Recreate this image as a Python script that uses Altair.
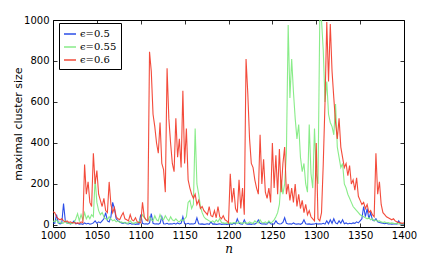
import altair as alt
import pandas as pd

n_values = list(range(1000, 1401, 2))
eps_labels = ["ϵ=0.5", "ϵ=0.55", "ϵ=0.6"]
colors = ["#1a3fe6", "#7fea7f", "#f23c2a"]
x_ticks = list(range(1000, 1401, 50))
y_ticks = [0, 200, 400, 600, 800, 1000]

blue = [
    10, 8, 50, 10, 5, 8, 105, 20, 10, 8,
    5, 10, 20, 5, 8, 4, 6, 3, 10, 5,
    8, 4, 6, 10, 20, 8, 15, 10, 20, 30,
    60, 20, 15, 40, 110, 80, 30, 20, 15, 10,
    8, 12, 6, 5, 8, 4, 6, 3, 5, 4,
    50, 8, 5, 6, 4, 10, 55, 8, 5, 6,
    4, 8, 40, 6, 5, 8, 4, 6, 5, 8,
    4, 10, 5, 8, 40, 6, 5, 8, 4, 6,
    5, 8, 35, 6, 4, 5, 3, 4, 6, 3,
    15, 4, 5, 3, 4, 6, 3, 4, 5, 3,
    4, 6, 3, 8, 5, 30, 8, 5, 4, 25,
    6, 4, 5, 3, 6, 4, 10, 25, 8, 5,
    6, 4, 5, 15, 6, 4, 5, 20, 8, 5,
    6, 12, 35, 8, 5, 6, 4, 10, 5, 4,
    6, 3, 8, 25, 6, 4, 5, 3, 4, 5,
    8, 4, 6, 5, 8, 4, 20, 6, 25, 8,
    30, 10, 6, 20, 8, 25, 6, 10, 5, 8,
    6, 10, 8, 15, 10, 20, 30, 90, 40, 80,
    30, 60, 25, 20, 30, 15, 12, 10, 8, 6,
    8, 5, 6, 4, 5, 6, 4, 20, 5, 4,
    3,
]

green = [
    20, 15, 25, 10, 15, 8, 10, 20, 8, 10,
    5, 8, 10, 30, 55, 20, 50, 25, 60, 30,
    45, 30, 50, 40, 225, 110, 70, 50, 60, 40,
    30, 25, 40, 30, 20, 25, 15, 20, 12, 15,
    10, 12, 8, 10, 20, 10, 8, 12, 10, 15,
    30, 50, 35, 25, 20, 40, 25, 20, 45, 25,
    20, 50, 30, 25, 45, 30, 20, 40, 25, 20,
    30, 20, 15, 25, 20, 30, 40, 110, 120, 80,
    100, 470, 200, 150, 90, 60, 40, 30, 25, 20,
    15, 20, 12, 25, 15, 30, 12, 10, 8, 10,
    8, 10, 8, 12, 10, 8, 15, 10, 8, 12,
    10, 8, 15, 10, 8, 20, 12, 10, 25, 12,
    10, 15, 8, 20, 10, 15, 25, 40, 60, 100,
    220, 150, 200, 350, 975, 620, 810, 650, 520, 420,
    490, 330, 260, 300, 200, 160, 490, 250, 180, 470,
    250, 200, 1000, 1000, 850, 600, 700, 540, 500, 480,
    440, 590, 380, 330, 280, 300, 200, 180, 150, 130,
    110, 90, 80, 70, 60, 50, 45, 40, 35, 30,
    35, 25, 30, 20, 25, 18, 20, 15, 12, 15,
    10, 12, 8, 10, 8, 6, 8, 5, 6, 5,
    5,
]

red = [
    65, 60, 40, 30, 25, 30, 20, 15, 20, 12,
    15, 10, 12, 8, 10, 8, 15, 10, 295, 150,
    210, 110, 90, 350, 200, 265, 150, 120, 90, 130,
    70, 60, 210, 100, 60, 85, 40, 30, 25, 45,
    60, 30, 25, 20, 50, 25, 20, 35, 15, 12,
    10, 110, 40, 25, 20, 845, 750, 540, 480, 400,
    350, 500, 300, 270, 160, 765, 520, 400, 300, 260,
    520, 330, 420, 280, 655, 300, 470, 220, 180, 150,
    130, 150, 100, 120, 80, 90, 70, 60, 50, 90,
    45, 40, 70, 35, 90, 40, 30, 45, 25, 20,
    10, 250, 110, 180, 80, 60, 220, 80, 180, 50,
    810, 640, 420, 300, 280, 220, 180, 150, 440, 200,
    320, 160, 130, 180, 110, 400, 180, 340, 150, 370,
    160, 300, 380, 150, 200, 120, 180, 110, 200, 90,
    150, 80, 120, 60, 100, 50, 70, 40, 30, 20,
    400, 30, 20, 60, 300, 600, 990, 700, 980, 750,
    620, 500, 420, 520, 380, 330, 280, 300, 240, 290,
    200, 220, 170, 230, 140, 120, 100, 110, 80, 100,
    60, 70, 50, 40, 350, 150, 210, 100, 60, 50,
    40, 35, 30, 25, 30, 20, 15, 12, 10, 8,
    10,
]

rows = []
for lab, series in zip(eps_labels, [blue, green, red]):
    for n, v in zip(n_values, series):
        rows.append({"n": n, "size": v, "eps": lab})
df = pd.DataFrame(rows)

xs = alt.Scale(domain=[1000, 1400], nice=False, zero=False)
ys = alt.Scale(domain=[-10, 1000], nice=False, zero=False)

color_enc = alt.Color(
    "eps:N",
    scale=alt.Scale(domain=eps_labels, range=colors),
    legend=alt.Legend(
        title=None, orient="none", legendX=6, legendY=3,
        padding=4, rowPadding=1, strokeColor="black", fillColor="white",
        labelFont="DejaVu Serif", labelFontSize=10, labelOffset=3,
        symbolType="stroke", symbolSize=144, symbolStrokeWidth=1.5,
        labelColor="black",
    ),
)

inner = dict(domain=False, grid=False, tickSize=4, offset=-4,
             tickColor="black", tickWidth=0.8, labelFlush=False)

top_axis = alt.Axis(orient="top", labels=False, title=None, values=x_ticks, **inner)
right_axis = alt.Axis(orient="right", labels=False, title=None, values=y_ticks, **inner)
bottom_axis = alt.Axis(orient="bottom", values=x_ticks, title="n", format="d",
                       labelFont="DejaVu Sans", labelFontSize=10, labelColor="black",
                       labelPadding=3, titleFont="DejaVu Serif", titleFontStyle="italic",
                       titleFontWeight="normal", titleFontSize=12, titlePadding=3,
                       titleColor="black", **inner)
left_axis = alt.Axis(orient="left", values=y_ticks, title="maximal cluster size", format="d",
                     labelFont="DejaVu Sans", labelFontSize=10, labelColor="black",
                     labelPadding=4, titleFont="DejaVu Sans", titleFontWeight="normal",
                     titleFontSize=11, titlePadding=0, titleColor="black", **inner)


def layer(lab, xaxis, yaxis):
    return alt.Chart(df).transform_filter(alt.datum.eps == lab).mark_line(
        strokeWidth=1.1, clip=True, opacity=0.92
    ).encode(
        x=alt.X("n:Q", scale=xs, axis=xaxis),
        y=alt.Y("size:Q", scale=ys, axis=yaxis),
        color=color_enc,
    )


chart = alt.layer(
    layer(eps_labels[0], top_axis, right_axis),
    layer(eps_labels[1], None, None),
    layer(eps_labels[2], bottom_axis, left_axis),
).properties(
    width=351, height=207,
    padding={"left": 45, "top": 12, "right": 24, "bottom": 30},
    autosize=alt.AutoSizeParams(type="none"),
    background="white",
).configure_view(stroke="black", strokeWidth=1)

chart.save("out.html", embed_options={"renderer": "svg", "actions": False})
